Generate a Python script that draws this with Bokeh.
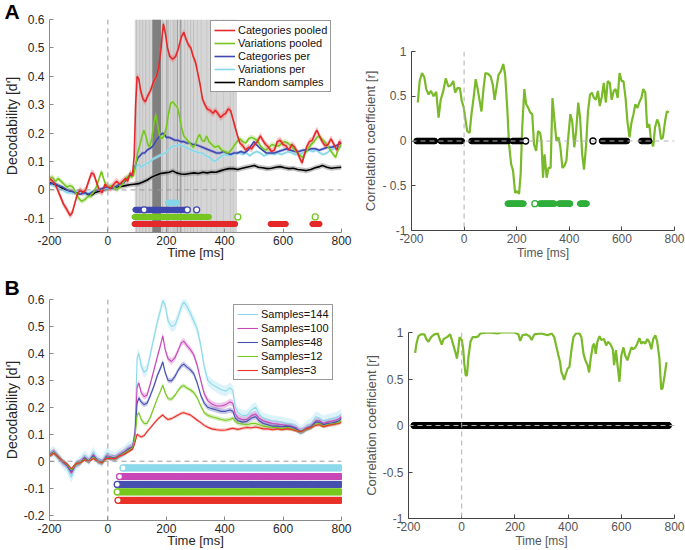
import numpy as np
from bokeh.plotting import figure
from bokeh.models import (Range1d, FixedTicker, Span, Legend, LegendItem, Title,
                          CustomJSTickFormatter)
from bokeh.layouts import row, column
from bokeh.embed import file_html
from bokeh.resources import INLINE

FONT = "Liberation Sans"

# ---------------- data: panel A, left (decodability) ----------------
x_ticks = [-200, 0, 200, 400, 600, 800]
yA_ticks = [-0.1, 0, 0.1, 0.2, 0.3, 0.4, 0.5, 0.6]

catpool_t = [-200,-188,-176,-164,-152,-140,-130,-122,-114,-106,-96,-86,-76,-66,-56,-48,-40,-30,-20,-10,
             0,10,20,30,40,50,60,68,76,84,90,95,100,106,112,120,128,136,146,156,
             166,174,182,190,197,204,212,222,232,242,252,260,268,276,284,292,300,308,316,324,
             332,340,350,360,368,376,386,396,404,412,420,428,436,444,452,462,472,482,492,502,
             512,522,530,540,550,560,570,580,590,600,610,620,630,640,650,658,665,672,680,690,
             700,710,716,724,734,744,754,764,774,784,792,800]
catpool_v = [0.04,0.03,0.01,-0.02,-0.05,-0.07,-0.09,-0.08,-0.05,-0.02,0.0,-0.01,0.0,0.03,0.06,0.055,0.03,0.0,-0.01,0.02,
             0.01,0.005,0.02,0.03,0.02,0.03,0.04,0.03,0.06,0.05,0.12,0.30,0.40,0.39,0.35,0.32,0.31,0.33,0.35,0.38,
             0.40,0.43,0.50,0.585,0.55,0.50,0.47,0.46,0.47,0.50,0.54,0.555,0.53,0.51,0.50,0.47,0.45,0.41,0.37,0.32,
             0.30,0.285,0.28,0.27,0.28,0.27,0.255,0.265,0.27,0.285,0.28,0.25,0.22,0.19,0.165,0.155,0.14,0.15,0.145,0.16,
             0.17,0.19,0.175,0.16,0.15,0.135,0.14,0.17,0.175,0.16,0.155,0.14,0.16,0.15,0.13,0.11,0.095,0.12,0.15,0.17,
             0.175,0.20,0.21,0.19,0.17,0.155,0.16,0.18,0.16,0.14,0.17,0.165]

varpool_t = [-200,-190,-180,-170,-160,-150,-140,-130,-120,-110,-100,-90,-80,-70,-60,-50,-40,-30,-22,-15,
             -8,0,10,20,30,40,50,60,70,80,88,95,102,110,117,123,130,137,143,150,
             157,164,170,176,184,192,200,208,215,222,230,238,245,252,260,268,276,284,292,300,
             308,314,322,330,338,346,356,366,378,390,400,412,422,432,442,452,462,472,482,492,
             502,512,522,532,542,552,562,574,586,596,606,616,628,640,650,660,668,676,686,696,
             706,716,724,732,742,752,762,772,780,788,796,800]
varpool_v = [0.04,0.045,0.03,0.04,0.03,0.02,0.01,0.015,0.01,-0.01,-0.03,-0.04,-0.035,-0.025,-0.02,-0.01,0.01,0.04,0.065,0.04,
             0.02,0.01,0.015,0.01,0.0,0.01,0.02,0.04,0.05,0.045,0.05,0.09,0.13,0.16,0.19,0.21,0.19,0.16,0.15,0.18,
             0.23,0.265,0.23,0.195,0.18,0.19,0.22,0.27,0.305,0.31,0.30,0.29,0.26,0.22,0.19,0.18,0.17,0.16,0.15,0.16,
             0.185,0.195,0.175,0.17,0.19,0.17,0.16,0.15,0.155,0.14,0.135,0.13,0.14,0.155,0.17,0.18,0.17,0.165,0.18,0.185,
             0.18,0.175,0.155,0.145,0.14,0.15,0.16,0.155,0.155,0.165,0.17,0.165,0.155,0.14,0.13,0.12,0.115,0.13,0.145,0.16,
             0.17,0.185,0.19,0.18,0.17,0.155,0.14,0.125,0.115,0.14,0.155,0.16]

catper_t = [-200,-185,-170,-155,-140,-125,-110,-95,-80,-65,-50,-35,-20,-5,10,25,40,55,65,75,
            85,92,98,104,110,118,126,134,142,150,158,166,174,182,188,194,200,210,220,230,
            240,250,260,270,280,290,300,312,324,336,348,360,372,384,396,408,420,432,444,456,
            468,480,490,500,508,518,530,542,556,570,584,598,612,626,640,654,668,682,696,710,
            724,738,752,766,780,790,800]
catper_v = [0.02,0.025,0.015,0.01,0.0,-0.005,-0.01,-0.015,-0.01,-0.015,-0.005,0.0,0.005,0.01,0.005,0.01,0.02,0.025,0.04,0.05,
            0.055,0.08,0.10,0.115,0.12,0.13,0.13,0.14,0.145,0.15,0.16,0.175,0.185,0.195,0.2,0.195,0.185,0.185,0.18,0.175,
            0.175,0.17,0.17,0.165,0.165,0.16,0.16,0.155,0.15,0.145,0.14,0.135,0.13,0.13,0.135,0.13,0.125,0.13,0.13,0.135,
            0.13,0.14,0.155,0.17,0.16,0.15,0.14,0.13,0.13,0.13,0.135,0.14,0.145,0.14,0.135,0.135,0.14,0.14,0.145,0.145,
            0.14,0.145,0.15,0.15,0.155,0.16,0.165]

varper_t = [-200,-185,-170,-155,-140,-125,-110,-95,-80,-65,-50,-35,-20,-5,10,25,40,55,65,75,
            85,93,100,106,112,120,128,136,146,156,166,176,186,196,206,216,226,236,246,256,
            266,276,288,300,312,324,336,348,358,368,378,390,402,414,426,438,450,462,474,486,
            498,510,522,534,546,558,570,582,594,606,618,630,642,654,666,678,690,702,714,726,
            738,750,762,774,786,800]
varper_v = [0.02,0.015,0.005,0.0,-0.01,-0.01,-0.005,-0.01,-0.015,-0.01,-0.005,0.0,0.0,0.005,0.005,0.01,0.02,0.03,0.04,0.05,
            0.055,0.07,0.085,0.09,0.08,0.085,0.09,0.095,0.10,0.11,0.115,0.12,0.125,0.13,0.14,0.15,0.155,0.155,0.16,0.155,
            0.15,0.145,0.14,0.135,0.13,0.13,0.12,0.115,0.105,0.10,0.11,0.12,0.125,0.12,0.125,0.13,0.13,0.125,0.13,0.12,
            0.13,0.135,0.13,0.12,0.125,0.13,0.125,0.13,0.125,0.13,0.135,0.13,0.125,0.125,0.13,0.135,0.14,0.135,0.14,0.13,
            0.125,0.13,0.14,0.145,0.15,0.15]

rand_t = [-200,-185,-170,-155,-140,-125,-110,-95,-80,-70,-58,-45,-30,-15,0,15,30,45,60,75,
          90,105,120,135,150,165,180,195,210,222,235,250,265,280,295,310,325,340,355,370,
          385,400,415,430,445,460,475,490,502,515,530,545,560,575,590,605,620,635,650,665,
          680,695,710,725,735,750,765,780,800]
rand_v = [0.025,0.02,0.015,0.005,0.0,-0.005,-0.01,-0.005,-0.01,-0.015,-0.02,-0.01,-0.005,0.0,0.005,0.008,0.01,0.012,0.015,0.018,
          0.02,0.022,0.028,0.035,0.045,0.052,0.058,0.06,0.062,0.067,0.06,0.056,0.055,0.058,0.06,0.058,0.062,0.06,0.063,0.062,
          0.067,0.072,0.075,0.075,0.072,0.076,0.08,0.083,0.086,0.08,0.078,0.075,0.076,0.08,0.082,0.078,0.075,0.076,0.072,0.07,
          0.068,0.072,0.078,0.082,0.086,0.08,0.076,0.078,0.08]

# standard error half-widths per series
semA = {"catpool": 0.012, "varpool": 0.01, "catper": 0.006, "varper": 0.006, "rand": 0.009}

# time windows with significant differences (grey shading, three levels)
shade_light = [(92, 442)]
shade_mid = [(97, 100), (108, 111), (118, 121), (128, 132), (140, 143), (185, 188), (206, 209),
             (214, 216), (222, 225), (228, 231), (262, 265), (272, 274), (282, 285), (292, 295),
             (305, 307), (318, 320), (338, 340), (352, 354), (372, 374), (395, 397), (418, 420), (428, 430)]
shade_dark = [(200, 204), (236, 240), (246, 252)]
shade_darkest = [(152, 182)]

# significance rows (filled spans and open circles)
sigA = [
    ("varper", -0.045, [(205, 239)], []),
    ("catper", -0.07, [(94, 267)], [124, 272, 304]),
    ("varpool", -0.095, [(91, 347)], [445, 710]),
    ("catpool", -0.12, [(91, 438), (557, 611), (700, 726)], []),
]

# ---------------- data: panel A, right (correlation) ----------------
yR_ticks = [-1, -0.5, 0, 0.5, 1]
corrA_t = [-176,-169,-160,-151,-144,-135,-126,-116,-106,-97,-89,-79,-70,-60,-51,-41,-34,-26,-16,-9,
           -1,6,12,21,28,36,44,51,59,66,74,81,91,101,109,116,124,131,140,149,
           156,164,171,179,186,194,201,209,215,221,229,236,244,251,259,266,274,281,289,294,
           300,306,314,321,329,336,344,351,359,366,374,381,389,396,404,411,419,426,434,441,
           449,456,464,471,479,486,494,501,509,516,524,531,539,546,554,561,569,576,584,591,
           599,606,614,621,629,636,644,651,659,666,674,681,689,696,704,711,719,726,734,741,
           749,756,764,771,779]
corrA_v = [0.43,0.67,0.76,0.71,0.58,0.52,0.56,0.50,0.55,0.26,0.46,0.56,0.70,0.61,0.62,0.67,0.54,0.59,0.59,0.45,
           0.37,0.22,0.11,0.09,0.30,0.48,0.69,0.59,0.45,0.33,0.59,0.76,0.75,0.72,0.63,0.46,0.61,0.74,0.78,0.86,
           0.74,0.37,-0.04,-0.26,-0.33,-0.58,-0.56,-0.59,-0.37,0.15,0.58,0.41,0.37,0.32,0.30,-0.04,-0.11,0.11,0.09,0.0,
           -0.41,-0.15,-0.41,-0.30,-0.30,0.48,0.22,0.0,0.04,-0.07,-0.30,-0.28,-0.22,0.04,0.30,0.22,-0.07,0.11,0.43,0.26,
           -0.15,-0.32,-0.04,0.33,0.52,0.54,0.48,0.46,0.56,0.39,0.50,0.65,0.43,0.67,0.65,0.46,0.56,0.58,0.48,0.76,
           0.67,0.67,0.48,0.22,0.04,0.20,0.30,0.41,0.37,0.43,0.48,0.58,0.54,0.15,0.19,0.0,-0.06,0.15,0.24,0.19,
           0.02,0.04,0.22,0.33,0.32]
corrA_sig_black = [(-181, -110), (-89, -8), (28, 169), (184, 221), (524, 619), (674, 704)]
corrA_open_black = [234, 490]
corrA_sig_green = [(166, 228), (288, 344), (361, 404), (441, 468)]
corrA_open_green = [269]
corrA_black_y = 0.0
corrA_green_y = -0.7

# ---------------- data: panel B, left ----------------
yB_ticks = [-0.2, -0.1, 0, 0.1, 0.2, 0.3, 0.4, 0.5, 0.6]
tB = [-200,-185,-170,-155,-140,-125,-110,-95,-80,-65,-50,-35,-20,-5,10,25,40,55,70,85,
      93,100,106,114,124,134,146,158,170,180,188,196,206,218,230,242,252,260,270,282,
      294,306,318,330,342,356,372,388,404,418,428,436,446,460,476,492,506,518,532,548,
      564,580,596,612,628,644,658,668,680,696,712,724,738,752,766,780,792,800]
s144 = [0.028,0.036,0.015,-0.006,-0.025,-0.06,-0.015,0.0,0.022,0.003,0.035,0.005,-0.003,0.03,0.02,0.013,0.026,0.036,0.052,0.06,
        0.12,0.385,0.40,0.355,0.33,0.34,0.40,0.46,0.52,0.56,0.595,0.58,0.52,0.50,0.505,0.54,0.575,0.59,0.575,0.55,
        0.52,0.49,0.43,0.35,0.30,0.285,0.275,0.265,0.26,0.272,0.262,0.20,0.18,0.17,0.17,0.19,0.20,0.175,0.16,0.155,
        0.15,0.148,0.145,0.14,0.138,0.13,0.115,0.118,0.13,0.14,0.165,0.16,0.15,0.155,0.158,0.162,0.168,0.175]
s100 = [0.025,0.035,0.016,-0.004,-0.018,-0.045,-0.013,-0.003,0.015,0.002,0.025,0.003,-0.004,0.02,0.016,0.012,0.024,0.034,0.048,0.055,
        0.11,0.275,0.29,0.255,0.24,0.245,0.29,0.34,0.39,0.43,0.465,0.415,0.38,0.37,0.385,0.415,0.44,0.445,0.43,0.415,
        0.395,0.355,0.30,0.25,0.225,0.212,0.205,0.205,0.21,0.22,0.215,0.175,0.16,0.155,0.155,0.17,0.175,0.16,0.15,0.145,
        0.14,0.138,0.135,0.132,0.13,0.125,0.112,0.115,0.125,0.13,0.15,0.15,0.14,0.145,0.148,0.152,0.158,0.165]
s48 = [0.024,0.034,0.016,-0.002,-0.015,-0.038,-0.012,-0.004,0.012,0.0,0.02,0.002,-0.004,0.015,0.014,0.012,0.022,0.032,0.044,0.052,
       0.10,0.215,0.235,0.22,0.21,0.215,0.245,0.28,0.32,0.345,0.368,0.33,0.30,0.298,0.315,0.34,0.355,0.36,0.35,0.34,
       0.325,0.29,0.245,0.215,0.2,0.195,0.19,0.185,0.185,0.19,0.185,0.16,0.15,0.145,0.148,0.16,0.165,0.15,0.14,0.135,
       0.13,0.13,0.128,0.13,0.128,0.12,0.11,0.113,0.12,0.128,0.145,0.145,0.135,0.14,0.142,0.145,0.15,0.16]
s12 = [0.022,0.032,0.015,0.0,-0.012,-0.032,-0.012,-0.005,0.008,0.0,0.015,0.0,-0.005,0.012,0.012,0.01,0.02,0.03,0.04,0.05,
       0.09,0.17,0.18,0.155,0.14,0.14,0.165,0.20,0.235,0.26,0.282,0.255,0.232,0.23,0.245,0.265,0.278,0.28,0.272,0.265,
       0.255,0.235,0.205,0.18,0.17,0.165,0.16,0.155,0.152,0.155,0.16,0.148,0.14,0.138,0.135,0.14,0.14,0.135,0.13,0.128,
       0.125,0.125,0.12,0.125,0.12,0.115,0.11,0.112,0.12,0.125,0.138,0.14,0.13,0.135,0.138,0.14,0.145,0.15]
s3 = [0.02,0.03,0.015,0.0,-0.01,-0.028,-0.01,-0.005,0.005,0.0,0.01,0.0,-0.005,0.01,0.01,0.01,0.02,0.025,0.035,0.045,
      0.07,0.10,0.095,0.09,0.095,0.11,0.125,0.14,0.155,0.165,0.172,0.162,0.155,0.158,0.165,0.172,0.178,0.18,0.176,0.172,
      0.162,0.152,0.143,0.133,0.126,0.12,0.117,0.115,0.116,0.12,0.122,0.12,0.118,0.122,0.125,0.124,0.127,0.124,0.12,0.12,
      0.117,0.12,0.117,0.12,0.118,0.113,0.11,0.113,0.12,0.125,0.133,0.135,0.128,0.132,0.135,0.138,0.14,0.145]
semB = {"144": 0.02, "100": 0.012, "48": 0.01, "12": 0.008, "3": 0.006}
sigB = [("144", -0.025, 52), ("100", -0.057, 40), ("48", -0.086, 32), ("12", -0.114, 32), ("3", -0.145, 35)]
sigB_end = 800

# ---------------- data: panel B, right ----------------
corrB_t = [-175,-170,-163,-153,-140,-133,-125,-115,-103,-90,-83,-75,-68,-55,-43,-33,-23,-18,-13,-8,
           0,5,10,15,20,25,33,41,54,63,70,98,135,148,198,213,220,228,243,255,
           263,273,298,323,338,348,355,363,370,375,380,385,390,398,405,413,420,430,443,450,
           458,465,473,479,485,493,498,504,510,518,525,535,543,550,560,568,573,580,585,593,
           600,608,615,623,630,638,645,653,660,668,675,683,690,698,705,713,720,728,735,743,
           750,755,763,770]
corrB_v = [0.78,0.88,0.96,0.98,0.98,0.93,0.90,0.95,0.98,0.99,0.93,0.87,0.93,0.95,0.98,0.88,0.78,0.72,0.82,0.95,
           0.92,0.84,0.66,0.54,0.54,0.73,0.90,0.95,0.95,0.96,0.99,1.0,0.99,1.0,1.0,0.98,0.91,0.97,0.98,0.96,
           0.92,0.98,0.99,0.97,0.99,0.95,0.86,0.76,0.68,0.57,0.54,0.49,0.54,0.61,0.63,0.82,0.95,0.99,0.99,0.95,
           0.77,0.70,0.65,0.57,0.72,0.86,0.88,0.77,0.90,0.96,0.92,0.93,0.86,0.90,0.87,0.82,0.65,0.81,0.67,0.47,
           0.75,0.84,0.75,0.70,0.77,0.84,0.82,0.84,0.88,0.94,0.88,0.90,0.88,0.93,0.90,0.82,0.93,0.97,0.90,0.73,
           0.39,0.40,0.54,0.68]
corrB_sig_black = [(-180, 778)]

# ---------------- styles ----------------
colA = {"catpool": "#e5292b", "varpool": "#77c520", "catper": "#3f48b0", "varper": "#86d6ea", "rand": "#000000"}
bandA = {"catpool": "#f08080", "varpool": "#b5e58a", "catper": "#8f96d8", "varper": "#bfeaf5", "rand": "#8c8c8c"}
colB = {"144": "#8cd9ea", "100": "#c848b8", "48": "#4650b0", "12": "#78c81e", "3": "#e83228"}
CORR_GREEN = "#7ab929"
SIG_GREEN = "#2fae3a"

xfmt = "return Math.round(tick).toString();"
yfmt = "return (Math.round(tick*100)/100).toString();"


def style(p, text_color, axis_color, tick_size, xlab_size, ylab_size, xlab_standoff):
    p.outline_line_color = None
    p.xgrid.visible = False
    p.ygrid.visible = False
    for ax, sz in ((p.xaxis[0], xlab_size), (p.yaxis[0], ylab_size)):
        ax.axis_line_color = axis_color
        ax.major_tick_line_color = axis_color
        ax.major_tick_in = 4
        ax.major_tick_out = 0
        ax.minor_tick_line_color = None
        ax.major_label_text_font = FONT
        ax.major_label_text_font_size = tick_size
        ax.major_label_text_color = text_color
        ax.axis_label_text_font = FONT
        ax.axis_label_text_font_size = sz
        ax.axis_label_text_color = text_color
        ax.axis_label_text_font_style = "normal"
    p.xaxis[0].major_label_standoff = 3
    p.xaxis[0].axis_label_standoff = xlab_standoff
    p.yaxis[0].major_label_standoff = 5
    p.yaxis[0].axis_label_standoff = 1


def make_fig(w, h, yr, ylab, borders):
    l, r, t, b = borders
    return figure(width=w, height=h, x_range=Range1d(-200, 800), y_range=Range1d(*yr),
                  output_backend="svg", toolbar_location=None, frame_align=False,
                  min_border_left=l, min_border_right=r, min_border_top=t, min_border_bottom=b,
                  x_axis_label="Time [ms]", y_axis_label=ylab)


def dots(p, intervals, y, color, size, step=2.5):
    xs = np.concatenate([np.arange(a, b + 0.01, step) for a, b in intervals])
    p.scatter(x=xs, y=np.full(len(xs), y), marker="circle", size=size,
              fill_color=color, line_color=color)


def open_dots(p, xs, y, color, size):
    if len(xs):
        p.scatter(x=xs, y=[y] * len(xs), marker="circle", size=size,
                  fill_color="white", line_color=color, line_width=1.3)


def letter(p, txt, standoff):
    p.title = Title(text=txt, align="left", offset=-45, standoff=standoff, text_font=FONT,
                    text_font_style="bold", text_font_size="21px", text_color="black")


def legend(items, loc):
    return Legend(items=items, location=loc, padding=3, spacing=1, glyph_width=21, glyph_height=12,
                  label_height=12, label_width=10, label_standoff=3, label_text_font=FONT,
                  label_text_font_size="11px", label_text_color="#111111", border_line_color="#333333",
                  border_line_width=1, background_fill_color="white", background_fill_alpha=1)


# ================= Panel A left =================
pA = make_fig(360, 262, (-0.15, 0.6), "Decodability [d']", (48, 19, 16, 5))
letter(pA, "A", -6)
style(pA, "#262626", "#8a8a8a", "12px", "13px", "14px", -3)
pA.xaxis[0].ticker = FixedTicker(ticks=x_ticks)
pA.yaxis[0].ticker = FixedTicker(ticks=yA_ticks)
pA.xaxis[0].formatter = CustomJSTickFormatter(code=xfmt)
pA.yaxis[0].formatter = CustomJSTickFormatter(code=yfmt)

for spans, c in ((shade_light, "#d6d6d6"), (shade_mid, "#bdbdbd"), (shade_dark, "#9e9e9e"),
                 (shade_darkest, "#7f7f7f")):
    pA.quad(left=[a for a, b in spans], right=[b for a, b in spans], bottom=-0.15, top=0.6,
            fill_color=c, line_color=None)

pA.add_layout(Span(location=0, dimension="height", line_color="#9a9a9a", line_dash="5 4", line_width=1))
pA.add_layout(Span(location=0, dimension="width", line_color="#9a9a9a", line_dash="5 4", line_width=1))

seriesA = [("rand", rand_t, rand_v), ("varper", varper_t, varper_v), ("catper", catper_t, catper_v),
           ("varpool", varpool_t, varpool_v), ("catpool", catpool_t, catpool_v)]
rendA = {}
for key, t, v in seriesA:
    t = np.array(t, float)
    v = np.array(v, float)
    pA.varea(x=t, y1=v - semA[key], y2=v + semA[key], fill_color=bandA[key], fill_alpha=0.5)
for key, t, v in seriesA:
    rendA[key] = pA.line(x=t, y=v, line_color=colA[key], line_width=1.6)

for key, y, spans, opens in sigA:
    dots(pA, spans, y, colA[key], 5)
    open_dots(pA, opens, y, colA[key], 6)

pA.add_layout(legend([LegendItem(label="Categories pooled", renderers=[rendA["catpool"]]),
                      LegendItem(label="Variations pooled", renderers=[rendA["varpool"]]),
                      LegendItem(label="Categories per", renderers=[rendA["catper"]]),
                      LegendItem(label="Variations per", renderers=[rendA["varper"]]),
                      LegendItem(label="Random samples", renderers=[rendA["rand"]])], (161, 140)))

# ================= Panel A right =================
pAr = make_fig(325, 262, (-1, 1), "Correlation coefficient [r]", (47, 11, 51, 5))
style(pAr, "#555555", "#444444", "12px", "12px", "13px", 0)
pAr.xaxis[0].ticker = FixedTicker(ticks=x_ticks)
pAr.yaxis[0].ticker = FixedTicker(ticks=yR_ticks)
pAr.xaxis[0].formatter = CustomJSTickFormatter(code=xfmt)
pAr.yaxis[0].formatter = CustomJSTickFormatter(
    code="var v = Math.round(tick*10)/10; return v == -0.5 ? '- 0.5' : v.toString();")
pAr.add_layout(Span(location=0, dimension="height", line_color="#b0b0b0", line_dash="5 4", line_width=1))
pAr.add_layout(Span(location=0, dimension="width", line_color="#b0b0b0", line_dash="5 4", line_width=1))
pAr.line(x=corrA_t, y=corrA_v, line_color=CORR_GREEN, line_width=2.2)
dots(pAr, corrA_sig_black, corrA_black_y, "black", 5.5)
open_dots(pAr, corrA_open_black, corrA_black_y, "black", 6)
dots(pAr, corrA_sig_green, corrA_green_y, SIG_GREEN, 5.5)
open_dots(pAr, corrA_open_green, corrA_green_y, SIG_GREEN, 6)

# ================= Panel B left =================
pB = make_fig(360, 288, (-0.22, 0.6), "Decodability [d']", (48, 19, 37, 5))
letter(pB, "B", 1)
style(pB, "#262626", "#8a8a8a", "12px", "13px", "14px", -3)
pB.xaxis[0].ticker = FixedTicker(ticks=x_ticks)
pB.yaxis[0].ticker = FixedTicker(ticks=yB_ticks)
pB.xaxis[0].formatter = CustomJSTickFormatter(code=xfmt)
pB.yaxis[0].formatter = CustomJSTickFormatter(code=yfmt)
pB.add_layout(Span(location=0, dimension="height", line_color="#9a9a9a", line_dash="5 4", line_width=1))
pB.add_layout(Span(location=0, dimension="width", line_color="#9a9a9a", line_dash="5 4", line_width=1))

seriesB = [("144", s144), ("100", s100), ("48", s48), ("12", s12), ("3", s3)]
rendB = {}
tBa = np.array(tB, float)
for key, v in seriesB:
    v = np.array(v, float)
    pB.varea(x=tBa, y1=v - semB[key], y2=v + semB[key], fill_color=colB[key], fill_alpha=0.3)
for key, v in seriesB:
    rendB[key] = pB.line(x=tBa, y=v, line_color=colB[key], line_width=1.1)
for key, y, start in sigB:
    dots(pB, [(start, sigB_end)], y, colB[key], 6)
    open_dots(pB, [start], y, colB[key], 6)

legB = legend([LegendItem(label="Samples=" + k, renderers=[rendB[k]]) for k, _ in seriesB], (184, 140))
legB.spacing = 2
pB.add_layout(legB)

# ================= Panel B right =================
pBr = make_fig(325, 288, (-1, 1), "Correlation coefficient [r]", (47, 11, 70, 5))
style(pBr, "#555555", "#444444", "12px", "12px", "13px", 0)
pBr.xaxis[0].ticker = FixedTicker(ticks=x_ticks)
pBr.yaxis[0].ticker = FixedTicker(ticks=yR_ticks)
pBr.xaxis[0].formatter = CustomJSTickFormatter(code=xfmt)
pBr.yaxis[0].formatter = CustomJSTickFormatter(code="return (Math.round(tick*10)/10).toString();")
pBr.add_layout(Span(location=0, dimension="height", line_color="#b0b0b0", line_dash="5 4", line_width=1))
pBr.add_layout(Span(location=0, dimension="width", line_color="#b0b0b0", line_dash="5 4", line_width=1))
pBr.line(x=corrB_t, y=corrB_v, line_color=CORR_GREEN, line_width=2.2)
dots(pBr, corrB_sig_black, 0.0, "black", 6)

layout = column(row(pA, pAr), row(pB, pBr))
open("out.html", "w").write(file_html(layout, INLINE))
